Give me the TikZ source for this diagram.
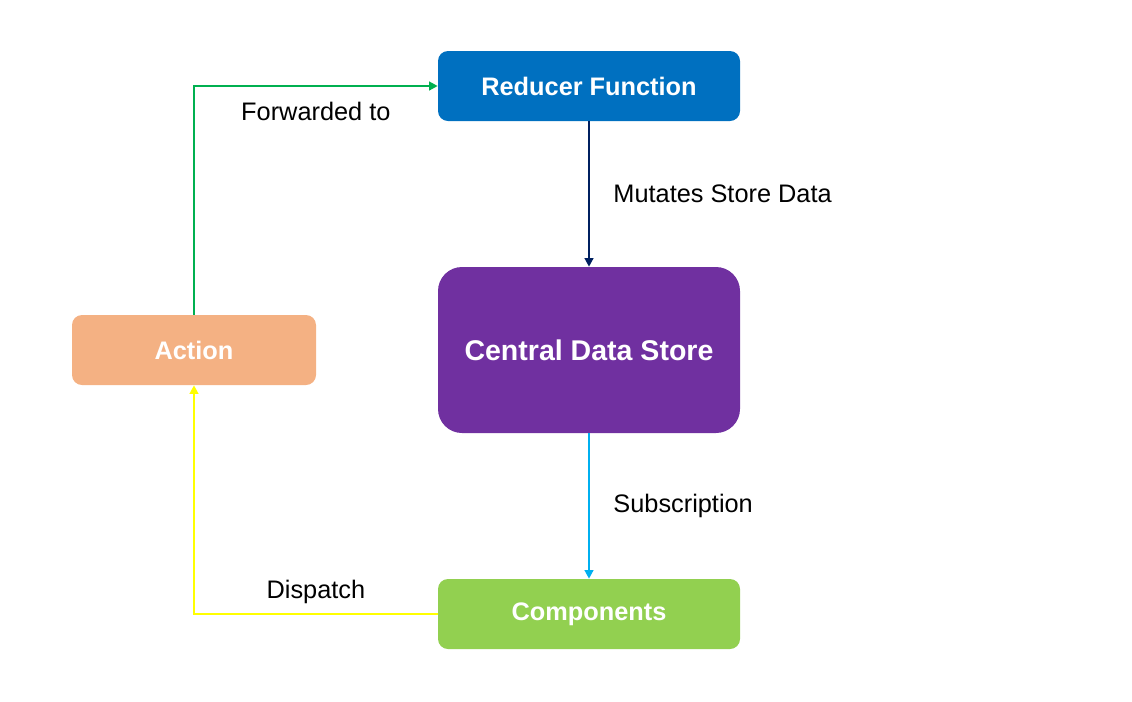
\documentclass[tikz,border=0pt]{standalone}
\usepackage{fontspec}
\setmainfont{Liberation Sans}
\usepackage{tikz}
\usetikzlibrary{arrows.meta,positioning}

\definecolor{reducerblue}{HTML}{0070C0}
\definecolor{storepurple}{HTML}{7030A0}
\definecolor{actionorange}{HTML}{F4B183}
\definecolor{compgreen}{HTML}{92D050}
\definecolor{fwdgreen}{HTML}{00B050}
\definecolor{mutnavy}{HTML}{002060}
\definecolor{subblue}{HTML}{00B0F0}
\definecolor{dispyellow}{HTML}{FFFF00}

\begin{document}
\begin{tikzpicture}[x=0.75pt,y=-0.75pt,
    box/.style={rounded corners=7.5pt,inner sep=0pt,text=white,
        font=\fontsize{19}{23}\selectfont\bfseries,
        minimum width=226.5pt,minimum height=52.5pt},
    flow/.style={line width=2pt,-{Triangle[length=6.5pt,width=6.5pt]}},
    lbl/.style={font=\fontsize{19}{23}\selectfont,text=black}]
    \useasboundingbox (0,0) rectangle (1132,701);

    \node[box,fill=reducerblue] (reducer) at (589,86) {Reducer Function};
    \node[box,fill=storepurple,rounded corners=18pt,minimum height=124.5pt,
        font=\fontsize{21.4}{25}\selectfont\bfseries] (store) at (589,350) {Central Data Store};
    \node[box,fill=actionorange,minimum width=183pt] (action) at (194,350) {Action};
    \node[box,fill=compgreen] (comps) at (589,614) {Components};

    \draw[flow,fwdgreen] (action.north) |- (reducer.west)
        node[lbl,pos=0.75,below=8pt] {Forwarded to};
    \draw[flow,mutnavy] (reducer) -- node[lbl,right=14pt] {Mutates Store Data} (store);
    \draw[flow,subblue] (store) -- node[lbl,right=14pt] {Subscription} (comps);
    \draw[flow,dispyellow] (comps.west) -| (action.south)
        node[lbl,pos=0.25,above=3pt] {Dispatch};
\end{tikzpicture}
\end{document}
